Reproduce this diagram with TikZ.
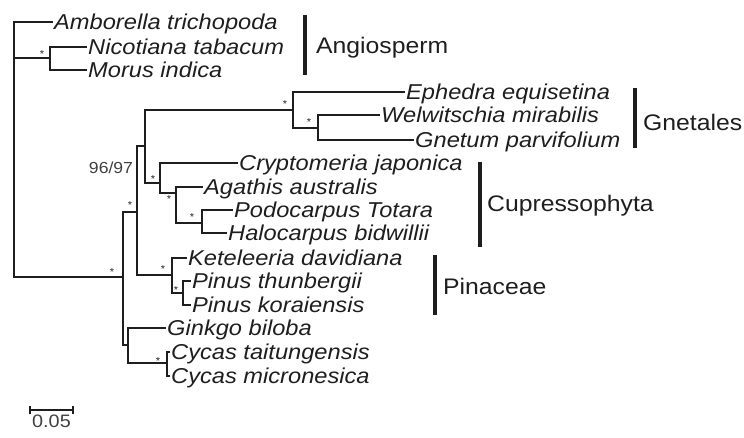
\documentclass[tikz,border=0pt]{standalone}
\usepackage{fontspec}
\setmainfont{Liberation Sans}[FakeStretch=1.1]
\usetikzlibrary{positioning}
\definecolor{ink}{HTML}{1E1E1E}

\begin{document}
\begin{tikzpicture}[
    x=1pt, y=-1pt,
    branch/.style={draw=ink, line width=2.2pt, line cap=rect},
    bar/.style={draw=ink, line width=3.6pt},
    taxon/.style={
      anchor=west, inner xsep=2pt, inner ysep=0pt,
      text height=15pt, text depth=0pt, text=ink,
      font=\fontsize{21.5}{22}\selectfont\itshape},
    clade/.style={
      anchor=west, inner sep=0pt,
      text height=16pt, text depth=0pt, text=ink,
      font=\fontsize{22.5}{23}\selectfont},
    num/.style={inner sep=0pt, text=ink!85, font=\fontsize{16}{16}\selectfont},
    supp/.style={
      anchor=base, yshift=-5.5pt, inner sep=0pt, text=ink,
      font=\fontsize{10}{10}\selectfont},
]
\useasboundingbox (0,0) rectangle (744,437);

% ---- internal nodes ----
\coordinate (root) at (14,150);
\coordinate (ang)  at (50,58);
\coordinate (gym)  at (123,277);
\coordinate (cgn)  at (137,212);
\coordinate (gc)   at (145,146);
\coordinate (gne)  at (293,110);
\coordinate (wg)   at (318,128);
\coordinate (cup)  at (160,183);
\coordinate (aph)  at (176,193);
\coordinate (ph)   at (202,223);
\coordinate (pin)  at (172,275);
\coordinate (pp)   at (183,293);
\coordinate (gcy)  at (128,345);
\coordinate (cyc)  at (167,363);

% ---- leaves ----
\node[taxon] (amb) at (52,22)  {Amborella trichopoda};
\node[taxon] (nic) at (86,47)  {Nicotiana tabacum};
\node[taxon] (mor) at (86,70)  {Morus indica};
\node[taxon] (eph) at (404,92) {Ephedra equisetina};
\node[taxon] (wel) at (379,115) {Welwitschia mirabilis};
\node[taxon] (gnt) at (413,140) {Gnetum parvifolium};
\node[taxon] (cry) at (237,163) {Cryptomeria japonica};
\node[taxon] (aga) at (202,187) {Agathis australis};
\node[taxon] (pod) at (232,210) {Podocarpus Totara};
\node[taxon] (hal) at (226,233) {Halocarpus bidwillii};
\node[taxon] (ket) at (186,258) {Keteleeria davidiana};
\node[taxon] (pth) at (190,281) {Pinus thunbergii};
\node[taxon] (pko) at (190,305) {Pinus koraiensis};
\node[taxon] (gin) at (165,328) {Ginkgo biloba};
\node[taxon] (cta) at (169,352) {Cycas taitungensis};
\node[taxon] (cmi) at (169,376) {Cycas micronesica};

% ---- branches ----
\draw[branch] (root) |- (amb.west) (root) |- (ang) (root) |- (gym);
\draw[branch] (ang) |- (nic.west) (ang) |- (mor.west);
\draw[branch] (gym) |- (cgn) (gym) |- (gcy);
\draw[branch] (cgn) |- (gc) (cgn) |- (pin);
\draw[branch] (gc) |- (gne) (gc) |- (cup);
\draw[branch] (gne) |- (eph.west) (gne) |- (wg);
\draw[branch] (wg) |- (wel.west) (wg) |- (gnt.west);
\draw[branch] (cup) |- (cry.west) (cup) |- (aph);
\draw[branch] (aph) |- (aga.west) (aph) |- (ph);
\draw[branch] (ph) |- (pod.west) (ph) |- (hal.west);
\draw[branch] (pin) |- (ket.west) (pin) |- (pp);
\draw[branch] (pp) |- (pth.west) (pp) |- (pko.west);
\draw[branch] (gcy) |- (gin.west) (gcy) |- (cyc);
\draw[branch] (cyc) |- (cta.west) (cyc) |- (cmi.west);

% ---- support values ----
\node[supp] (s1)  at (42,52)   {*};
\node[supp] (s2)  at (112,270) {*};
\node[supp] (s3)  at (130,203) {*};
\node[supp] (s4)  at (285,102) {*};
\node[supp] (s5)  at (309,120) {*};
\node[supp] (s6)  at (153,177) {*};
\node[supp] (s7)  at (169,197) {*};
\node[supp] (s8)  at (192,215) {*};
\node[supp] (s9)  at (163,267) {*};
\node[supp] (s10) at (176,288) {*};
\node[supp] (s11) at (158,359) {*};
\node[num]  (bs)  at (111,168) {96/97};

% ---- clade bars ----
\coordinate (angT) at (305,15);  \coordinate (angB) at (305,75);
\coordinate (gneT) at (635,88);  \coordinate (gneB) at (635,148);
\coordinate (cupT) at (480,162); \coordinate (cupB) at (480,247);
\coordinate (pinT) at (435,255); \coordinate (pinB) at (435,315);
\draw[bar] (angT) -- (angB);
\draw[bar] (gneT) -- (gneB);
\draw[bar] (cupT) -- (cupB);
\draw[bar] (pinT) -- (pinB);
\node[clade] (angL) at (316,45)  {Angiosperm};
\node[clade] (gneL) at (643,122) {Gnetales};
\node[clade] (cupL) at (487,203) {Cupressophyta};
\node[clade] (pinL) at (443,286) {Pinaceae};

% ---- scale bar ----
\coordinate (sL) at (30,410);
\coordinate (sR) at (73,410);
\coordinate (sM) at (51.5,410);
\draw[ink, line width=1.8pt] (sL) -- (sR);
\draw[ink, line width=1.8pt] ([yshift=4pt] sL) -- ([yshift=-4pt] sL);
\draw[ink, line width=1.8pt] ([yshift=4pt] sR) -- ([yshift=-4pt] sR);
\node[num, below=5pt of sM, font=\fontsize{18}{18}\selectfont] (sc) {0.05};

\end{tikzpicture}
\end{document}
